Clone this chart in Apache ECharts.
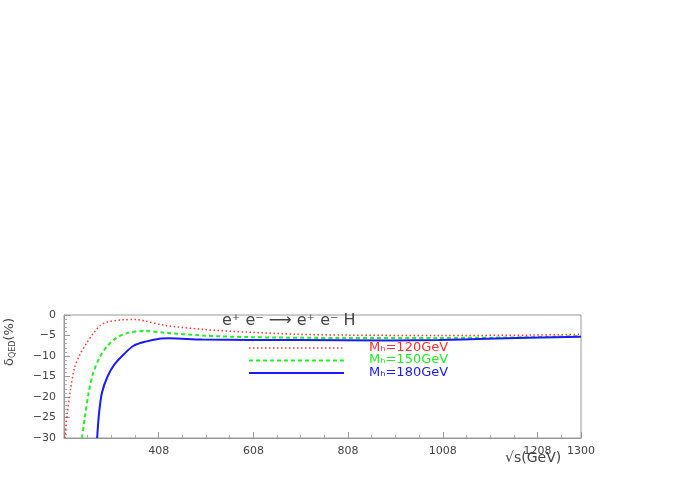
<!DOCTYPE html><html><head><meta charset="utf-8"><script src="https://cdn.jsdelivr.net/npm/echarts@6/dist/echarts.min.js"></script></head><body style="margin:0;background:#fff"><div id="c" style="width:698px;height:491px"></div><script>
const red=[[210,-30],[215,-24],[222,-18],[230,-13],[240,-10],[255,-7],[270,-4.5],[285,-2.5],[300,-1.7],[330,-1.2],[360,-1.1],[380,-1.5],[420,-2.5],[500,-3.5],[600,-4.2],[700,-4.7],[800,-4.9],[1000,-5],[1200,-4.9],[1300,-4.7]];
const green=[[246,-30],[252,-25],[260,-19],[270,-14],[285,-10],[300,-7.5],[320,-5.5],[345,-4.3],[380,-3.9],[420,-4.3],[500,-5],[600,-5.4],[800,-5.6],[1000,-5.6],[1200,-5.4],[1300,-5.1]];
const blue=[[278,-30],[282,-24],[288,-19],[300,-15],[315,-12],[335,-9.5],[355,-7.5],[380,-6.5],[410,-5.8],[430,-5.7],[500,-6],[700,-6.1],[900,-6.2],[1000,-6.1],[1100,-5.8],[1300,-5.3]];
const names=['M\u2095=120GeV','M\u2095=150GeV','M\u2095=180GeV'];
const cols=['#ff3030','#22ee22','#1a1aff'];
const ch=echarts.init(document.getElementById('c'));
const ax={color:'#444',fontFamily:'DejaVu Sans',fontSize:11};
ch.setOption({
grid:{left:64,right:117,top:315,bottom:53,show:true,borderColor:'#999'},
xAxis:{type:'value',min:208,max:1300,interval:200,position:'bottom',axisLabel:Object.assign({formatter:v=>(v>=400?v:'')},ax),
 axisLine:{onZero:false,lineStyle:{color:'#999'}},axisTick:{inside:true,length:6,lineStyle:{color:'#999'}},minorTick:{show:true,splitNumber:4,length:3,lineStyle:{color:'#aaa'}},splitLine:{show:false}},
yAxis:{type:'value',min:-30,max:0,interval:5,axisLabel:Object.assign({formatter:v=>v<0?'\u2212'+(-v):v},ax),axisLine:{show:true,lineStyle:{color:'#999'}},axisTick:{inside:true,length:6,lineStyle:{color:'#999'}},minorTick:{show:true,splitNumber:5,length:3,lineStyle:{color:'#aaa'}},splitLine:{show:false}},
series:[
{type:'line',data:red,showSymbol:false,smooth:0.3,lineStyle:{color:cols[0],width:1.5,type:[1.5,2.5]}},
{type:'line',data:green,showSymbol:false,smooth:0.3,lineStyle:{color:cols[1],width:2,type:[4,3]}},
{type:'line',data:blue,showSymbol:false,smooth:0.3,lineStyle:{color:cols[2],width:2}}],
graphic:[
{type:'text',left:222,top:313,style:{text:'e\u207a e\u207b \u27f6 e\u207a e\u207b H',font:'16px DejaVu Sans',fill:'#444'}},
{type:'text',left:505,top:451,style:{text:'√s(GeV)',font:'14px DejaVu Sans',fill:'#444'}},
{type:'text',x:3,y:366,rotation:Math.PI/2,style:{text:'{a|δ}{b|QED}{a|(%)}',fill:'#444',rich:{a:{font:'13px DejaVu Sans',fill:'#444'},b:{font:'8px DejaVu Sans',fill:'#444',padding:[6,0,0,0]}}}},
...[0,1,2].map(i=>({type:'line',shape:{x1:249,y1:348+i*12.5,x2:344,y2:348+i*12.5},style:{stroke:cols[i],lineWidth:i==0?1.5:2,lineDash:i==0?[1.5,2.5]:i==1?[4,3]:null}})),
...[0,1,2].map(i=>({type:'text',left:369,top:341+i*12.5,style:{text:names[i],font:'13px DejaVu Sans',fill:cols[i]}}))
]});
</script></body></html>
